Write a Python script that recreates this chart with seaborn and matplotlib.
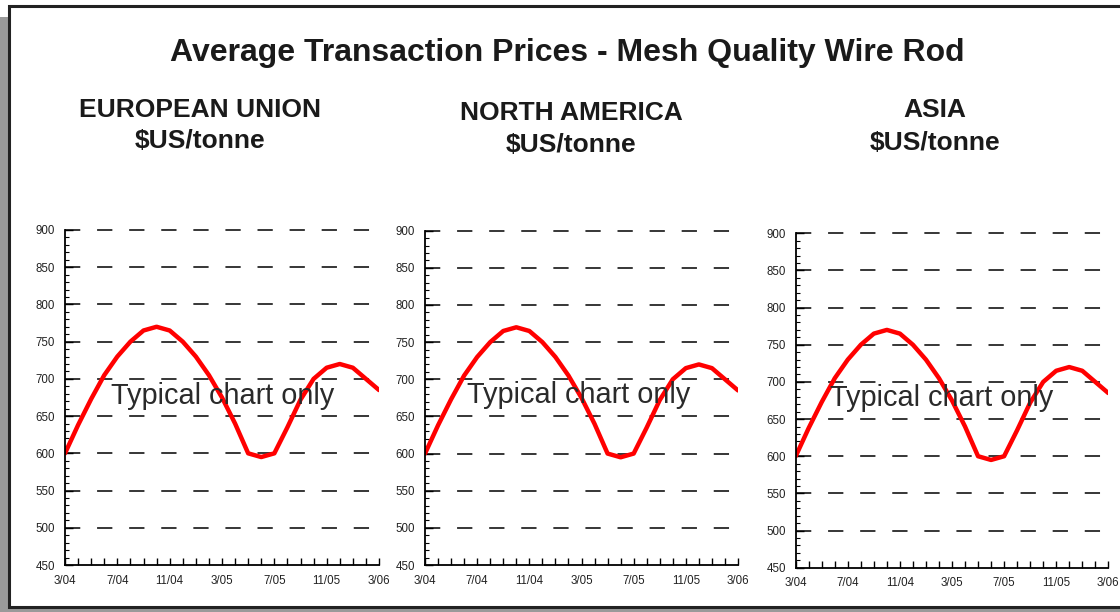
import numpy as np
import pandas as pd
import matplotlib
matplotlib.use("Agg")
import matplotlib.pyplot as plt
import seaborn as sns
from matplotlib.patches import Rectangle
from matplotlib.ticker import FixedLocator, MultipleLocator

# ---------------- data ----------------
months = ["3/04", "4/04", "5/04", "6/04", "7/04", "8/04", "9/04", "10/04", "11/04",
          "12/04", "1/05", "2/05", "3/05", "4/05", "5/05", "6/05", "7/05", "8/05",
          "9/05", "10/05", "11/05", "12/05", "1/06", "2/06", "3/06"]
prices = [600, 638, 673, 705, 730, 750, 765, 770, 765, 750, 730, 705, 675, 640,
          600, 595, 600, 635, 672, 700, 715, 720, 715, 700, 685]
tick_labels = ["3/04", "7/04", "11/04", "3/05", "7/05", "11/05", "3/06"]
regions = ["EUROPEAN UNION", "NORTH AMERICA", "ASIA"]
unit = "$US/tonne"
title = "Average Transaction Prices - Mesh Quality Wire Rod"
watermark = "Typical chart only"
y_ticks = [450, 500, 550, 600, 650, 700, 750, 800, 850, 900]

sns.set_theme(style="white")
plt.rcParams['font.family'] = ['Liberation Sans', 'DejaVu Sans']

W, H = 1120, 612
fig = plt.figure(figsize=(W / 100, H / 100), dpi=100)
fig.patch.set_facecolor("white")

def px_rect(x0, y0, x1, y1, **kw):
    # pixel coords from top-left
    r = Rectangle((x0 / W, 1 - y1 / H), (x1 - x0) / W, (y1 - y0) / H,
                  transform=fig.transFigure, figure=fig, **kw)
    fig.patches.append(r)

# shadow + frame
px_rect(0, 17, 12, 612, facecolor="#9a9a9a", edgecolor="none", zorder=-3)
px_rect(0, 606, 1125, 612, facecolor="#9a9a9a", edgecolor="none", zorder=-3)
px_rect(8.5, 5.5, 1130, 607, facecolor="white", edgecolor="#222222", linewidth=2.2, zorder=-2)

df = pd.DataFrame({"month": np.arange(len(months)), "label": months, "price": prices})

# axes pixel boxes: (left, right, top(900), bottom(450))
boxes = [(65, 379, 230, 565), (425, 738, 230.7, 565), (795.7, 1108.3, 233.3, 567.7)]
sub_pos = [(200, 117.3, 148.5), (571, 120.3, 151.5), (935, 117.3, 149.5)]
wm_pos = [(223, 404.3), (579, 403.3), (942, 406.3)]

fig.text(567 / W, 1 - 60.7 / H, title, ha="center", va="baseline",
         fontsize=23, fontweight="bold", color="#1a1a1a", zorder=5)

for i, (l, r, t, b) in enumerate(boxes):
    ax = fig.add_axes([l / W, 1 - b / H, (r - l) / W, (b - t) / H])
    ax.set_zorder(2)
    ax.set_facecolor("none")
    ax.patch.set_alpha(0)
    for yv in y_ticks[1:]:
        ax.axhline(yv, color="black", lw=1.1, linestyle=(0, (10, 11)), zorder=1,
                   clip_on=False)
    sns.lineplot(data=df, x="month", y="price", ax=ax, color="#ff0000",
                 linewidth=3.2, zorder=3)
    ax.set_xlim(0, len(months) - 1)
    ax.set_ylim(450, 900)
    ax.set_xlabel("")
    ax.set_ylabel("")
    ax.xaxis.set_major_locator(FixedLocator([months.index(m) for m in tick_labels]))
    ax.set_xticklabels(tick_labels)
    ax.xaxis.set_minor_locator(MultipleLocator(1))
    ax.set_yticks(y_ticks)
    ax.yaxis.set_minor_locator(MultipleLocator(10))
    for s in ["top", "right"]:
        ax.spines[s].set_visible(False)
    for s in ["left", "bottom"]:
        ax.spines[s].set_color("black")
        ax.spines[s].set_linewidth(1.3)
        ax.spines[s].set_zorder(4)
    ax.tick_params(axis="x", which="both", direction="in", length=5, width=1,
                   color="black", bottom=True, labelsize=8.3, pad=7, labelcolor="#222222")
    ax.tick_params(axis="y", which="major", direction="in", length=6, width=1,
                   color="black", left=True, labelsize=8.3, pad=7, labelcolor="#222222")
    ax.tick_params(axis="y", which="minor", direction="in", length=3, width=0.8,
                   color="black", left=True)
    ax.grid(False)
    cx, y1, y2 = sub_pos[i]
    fig.text(cx / W, 1 - y1 / H, regions[i], ha="center", va="baseline",
             fontsize=19, fontweight="bold", color="#1a1a1a")
    fig.text(cx / W, 1 - y2 / H, unit, ha="center", va="baseline",
             fontsize=19, fontweight="bold", color="#1a1a1a")
    wx, wy = wm_pos[i]
    fig.text(wx / W, 1 - wy / H, watermark, ha="center", va="baseline",
             fontsize=20.8, color="#2a2a2a", zorder=10)

fig.savefig("out.png", dpi=100)
